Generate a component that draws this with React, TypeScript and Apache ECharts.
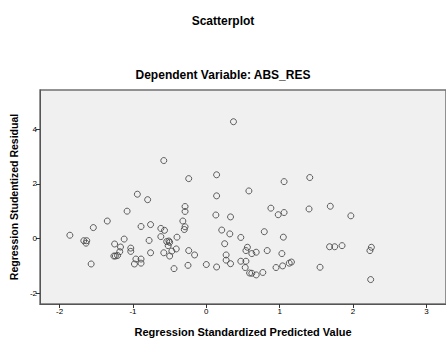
import React, { useEffect, useRef } from "react";
import * as echarts from "echarts";

const predicted: number[] = [
  -0.58, -0.94, -0.8, -1.08, -1.35, -1.54, -1.86, -1.67, -1.63, -1.64,
  -1.57, -0.89, -0.76, -1.12, -1.25, -1.17, -1.18, -1.26, -1.24, -1.21,
  -1.03, -1.03, -0.96, -0.98, -0.89, -0.89, -0.78, -0.76, -0.62, -0.57,
  -0.62, -0.58, -0.54, -0.5, -0.52, -0.51, -0.5, -0.47, -0.44, -0.4,
  -0.41, -0.24, -0.16, -0.25, -0.29, -0.29, -0.32, -0.29, -0.3, -0.24,
  0.0, 0.14, 0.14, 0.14, 0.13, 0.21, 0.32, 0.25, 0.27, 0.27,
  0.33, 0.33, 0.37, 0.47, 0.47, 0.54, 0.53, 0.56, 0.54, 0.62,
  0.68, 0.58, 0.59, 0.62, 0.68, 0.77, 0.79, 0.83, 0.88, 0.98,
  1.06, 1.05, 1.03, 0.95, 1.04, 1.06, 1.13, 1.16, 1.41, 1.4,
  1.69, 1.97, 1.55, 1.68, 1.75, 1.85, 2.25, 2.23, 2.24,
];

const residual: number[] = [
  2.85, 1.62, 1.42, 1.0, 0.64, 0.4, 0.12, -0.08, -0.08, -0.17,
  -0.93, 0.44, 0.51, -0.02, -0.2, -0.31, -0.48, -0.64, -0.64, -0.62,
  -0.35, -0.47, -0.75, -0.93, -0.75, -0.9, -0.07, -0.52, 0.37, 0.3,
  0.07, -0.52, -0.11, -0.14, -0.26, -0.09, -0.64, -0.46, -1.1, 0.05,
  -0.38, -0.44, -0.6, -0.98, 1.17, 0.99, 0.64, 0.43, 0.33, 2.19,
  -0.95, -1.04, 1.56, 2.33, 0.86, 0.31, 0.17, -0.19, -0.6, -0.79,
  -0.92, 0.79, 4.27, 0.04, -0.83, -0.83, -1.06, -0.32, -0.44, -0.55,
  -0.5, 1.74, -1.26, -1.27, -1.33, -1.24, 0.25, -0.44, 1.11, 0.87,
  0.95, 0.05, -0.55, -1.06, -1.0, 2.08, -0.9, -0.86, 2.23, 1.08,
  1.18, 0.83, -1.05, -0.3, -0.3, -0.26, -0.32, -0.44, -1.5,
];

const xTicks: number[] = [-2, -1, 0, 1, 2, 3];
const yTicks: number[] = [-2, 0, 2, 4];

const mainTitle = "Scatterplot";
const subTitle = "Dependent Variable: ABS_RES";
const xName = "Regression Standardized Predicted Value";
const yName = "Regression Studentized Residual";

export default function App() {
  const ref = useRef<HTMLDivElement>(null);
  useEffect(() => {
    document.body.style.margin = "0";
    if (!ref.current) return;
    const chart = echarts.init(ref.current, undefined, { renderer: "svg" });
    const font = "'Liberation Sans', Arial, sans-serif";
    const points = predicted.map((x, i) => [x, residual[i]]);
    chart.setOption({
      animation: false,
      backgroundColor: "#ffffff",
      textStyle: { fontFamily: font },
      title: [
        {
          text: mainTitle,
          left: "center",
          top: 10,
          textStyle: { fontSize: 12, fontWeight: "bold", color: "#000", fontFamily: font },
        },
        {
          text: subTitle,
          left: "center",
          top: 64,
          textStyle: { fontSize: 12, fontWeight: "bold", color: "#000", fontFamily: font },
        },
      ],
      grid: {
        left: 37,
        top: 90,
        width: 415,
        height: 219,
        show: true,
        backgroundColor: "#f0f0f0",
        borderColor: "#707070",
        borderWidth: 1.5,
      },
      xAxis: {
        type: "value",
        min: -2.267,
        max: 3.267,
        name: xName,
        nameLocation: "middle",
        nameGap: 22,
        nameTextStyle: { fontSize: 11, fontWeight: "bold", color: "#000", fontFamily: font },
        axisLine: { show: true, onZero: false, lineStyle: { color: "#555", width: 1 } },
        axisTick: { show: true, length: 4, customValues: xTicks, lineStyle: { color: "#333" } },
        axisLabel: { customValues: xTicks, fontSize: 8, color: "#000", margin: 3, fontFamily: font },
        splitLine: { show: false },
      },
      yAxis: {
        type: "value",
        min: -2.393,
        max: 5.429,
        name: yName,
        nameLocation: "middle",
        nameGap: 16,
        nameTextStyle: { fontSize: 10.5, fontWeight: "bold", color: "#000", fontFamily: font },
        axisLine: { show: true, onZero: false, lineStyle: { color: "#555", width: 1 } },
        axisTick: { show: true, length: 4, customValues: yTicks, lineStyle: { color: "#333" } },
        axisLabel: { customValues: yTicks, fontSize: 8, color: "#000", margin: 3, fontFamily: font },
        splitLine: { show: false },
      },
      series: [
        {
          type: "scatter",
          data: points,
          symbol: "circle",
          symbolSize: 6,
          itemStyle: { color: "rgba(0,0,0,0)", borderColor: "#3a3a3a", borderWidth: 1 },
        },
      ],
    });
    return () => chart.dispose();
  }, []);
  return <div ref={ref} style={{ width: 446, height: 342 }} />;
}
